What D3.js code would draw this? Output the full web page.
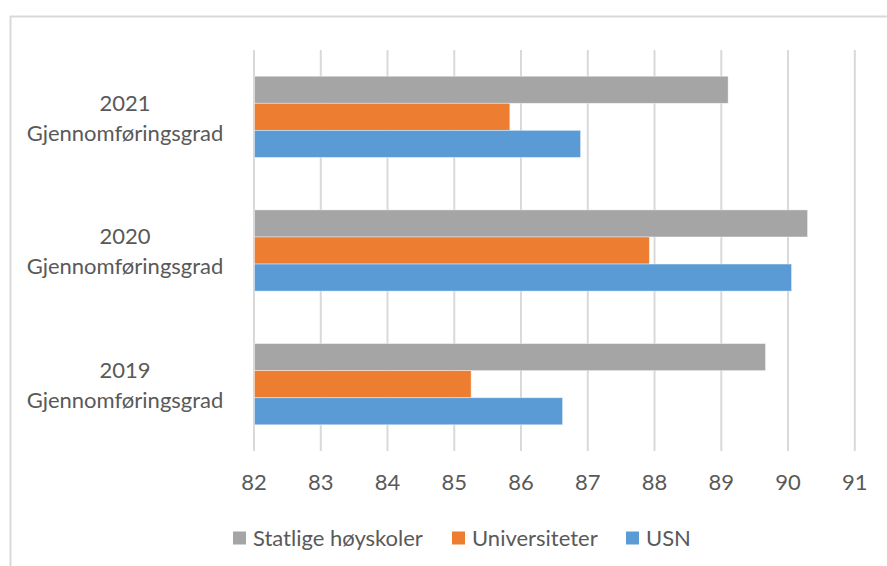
<!DOCTYPE html>
<html><head><meta charset="utf-8">
<script src="https://cdn.jsdelivr.net/npm/d3@7"></script>
<style>
html,body{margin:0;padding:0;background:#fff;}
svg{display:block;font-family:"Lato","Open Sans",sans-serif;}
</style></head>
<body>
<svg id="chart" width="887" height="566"></svg>
<script>
const categories = ["2021", "2020", "2019"];
const categorySub = "Gjennomføringsgrad";
const seriesNames = ["Statlige høyskoler", "Universiteter", "USN"];
const seriesColors = ["#A5A5A5", "#ED7D31", "#5B9BD5"];
const statlige = [89.11, 90.30, 89.67];
const universiteter = [85.84, 87.93, 85.26];
const usn = [86.90, 90.06, 86.63];
const xTicks = [82, 83, 84, 85, 86, 87, 88, 89, 90, 91];

(function () {
const seriesValues = [statlige, universiteter, usn];
const svg = d3.select("#chart");
const textColor = "#595959";

// frame
svg.append("rect").attr("x", 10.5).attr("y", 16.5).attr("width", 900).attr("height", 600)
  .attr("fill", "#fff").attr("stroke", "#d9d9d9").attr("stroke-width", 2);

const pl = 253.5, pr = 854.3, pt = 50, pb = 451;
const x = d3.scaleLinear().domain([82, 91]).range([pl, pr]);
const p = 52.33 / 133.33;
const y0 = d3.scaleBand().domain(categories).range([pt, pb]).paddingInner(p).paddingOuter(p / 2);
const y1 = d3.scaleBand().domain(seriesNames).range([0, y0.bandwidth()]);

// gridlines + tick labels
const axis = d3.axisBottom(x).tickValues(xTicks).tickSizeInner(-(pb - pt)).tickSizeOuter(0).tickPadding(23).tickFormat(d3.format("d"));
const ag = svg.append("g").attr("transform", `translate(0,${pb})`).call(axis);
ag.select(".domain").remove();
ag.selectAll(".tick line").attr("stroke", "#d9d9d9").attr("stroke-width", 2);
ag.selectAll(".tick text").attr("fill", textColor).attr("font-size", 22).attr("font-family", "Lato, 'Open Sans', sans-serif");

// bars
const rows = [];
categories.forEach((c, i) => seriesNames.forEach((s, j) => rows.push({c, s, j, v: seriesValues[j][i]})));
svg.append("g").selectAll("rect").data(rows).join("rect")
  .attr("x", x(82) + 1)
  .attr("y", d => y0(d.c) + y1(d.s))
  .attr("width", d => x(d.v) - x(82) - 1)
  .attr("height", y1.bandwidth())
  .attr("fill", d => seriesColors[d.j])
  .attr("stroke", "#fff").attr("stroke-opacity", 0.5).attr("stroke-width", 0.8);

// category labels
const cl = svg.append("g").selectAll("g").data(categories).join("g")
  .attr("transform", d => `translate(125,${y0(d) + y0.bandwidth() / 2})`);
cl.append("text").attr("text-anchor", "middle").attr("y", -14).attr("dy", "0.35em")
  .attr("fill", textColor).attr("font-size", 22).text(d => d);
cl.append("text").attr("text-anchor", "middle").attr("y", 16).attr("dy", "0.35em")
  .attr("fill", textColor).attr("font-size", 22).text(categorySub);

// legend
const legendX = [233, 452, 626];
const lg = svg.append("g").selectAll("g").data(seriesNames).join("g")
  .attr("transform", (d, i) => `translate(${legendX[i]},538)`);
lg.append("rect").attr("x", 0).attr("y", -6.5).attr("width", 13).attr("height", 13)
  .attr("fill", (d, i) => seriesColors[i]);
lg.append("text").attr("x", 20).attr("dy", "0.35em").attr("fill", textColor).attr("font-size", 22).text(d => d);
})();
</script>
</body></html>
